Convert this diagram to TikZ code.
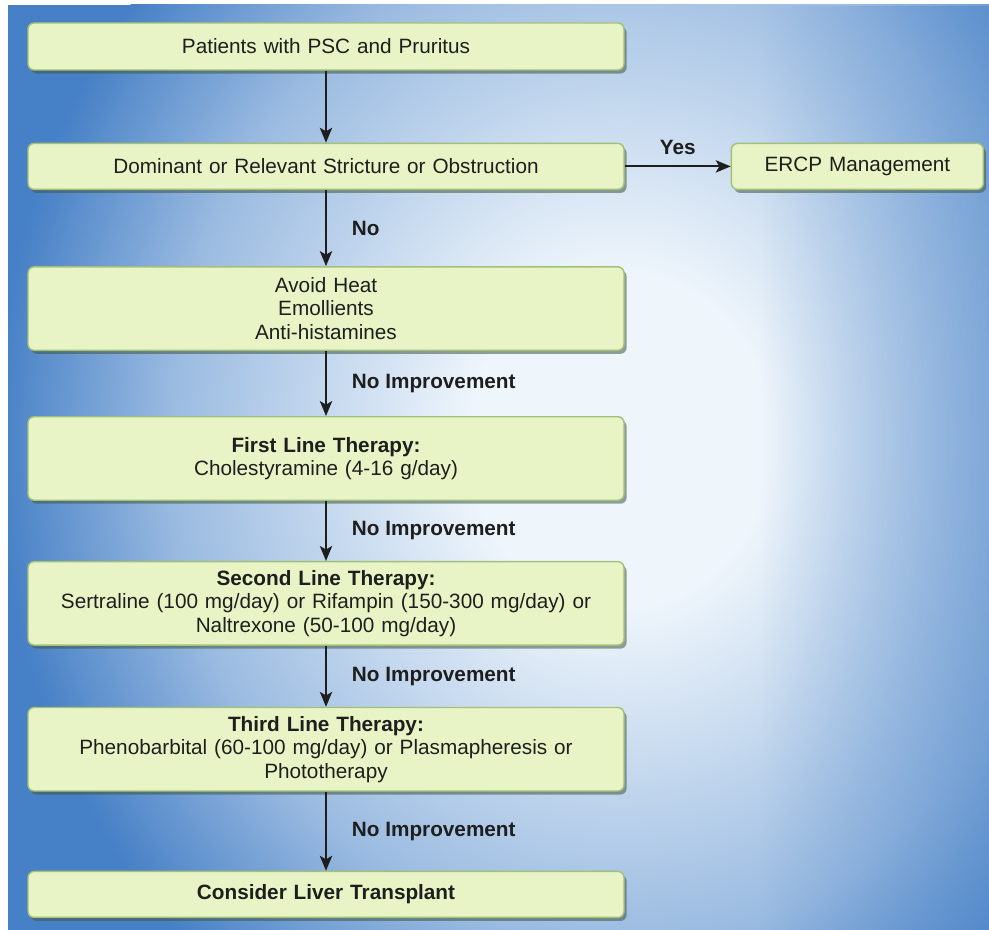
\documentclass[tikz,border=0pt]{standalone}
\usepackage{fontspec}
\setmainfont{Liberation Sans}
\usetikzlibrary{arrows.meta, positioning, shadows, fadings}

\definecolor{bgblue}{HTML}{4680C6}
\definecolor{bglight}{HTML}{EEF5FB}
\colorlet{bgmid}{bgblue!50!bglight}
\definecolor{boxfill}{HTML}{E8F4C5}
\definecolor{boxline}{HTML}{A3C078}
\definecolor{boxshadow}{HTML}{3F5745}
\definecolor{txt}{HTML}{1E1E1E}
\pgfdeclareradialshading{bgglow}{\pgfpoint{0bp}{0bp}}{color(0bp)=(bglight); color(6bp)=(bglight); color(18bp)=(bgmid); color(25bp)=(bgblue); color(50bp)=(bgblue)}
\tikzfading[name=rightdark, left color=transparent!100, right color=transparent!0]

\begin{document}
\begin{tikzpicture}[
    font=\fontsize{11.8}{13.4}\selectfont,
    process/.style={rectangle, draw=boxline, line width=0.8pt, fill=boxfill, text=txt, text width=11.52cm, inner xsep=0.2cm, align=center, rounded corners=3.5pt, minimum height=0.92cm, drop shadow={shadow xshift=1.5pt, shadow yshift=-2pt, fill=boxshadow, opacity=0.55}},
    tall/.style={minimum height=1.67cm},
    sidebox/.style={process, text width=4.64cm},
    arrow/.style={-{Stealth[length=8.5pt, width=7pt, inset=2pt]}, line width=1.1pt, draw=txt},
    lbl/.style={font=\fontsize{11.8}{13.4}\selectfont\bfseries, text=txt, inner sep=0pt}
]
\useasboundingbox (0,0) rectangle (19.78,-18.6);
\fill[bgblue] (0.16,-0.1) rectangle (19.78,-18.6);
\begin{scope}
\clip (0.16,-0.1) rectangle (19.78,-18.6);
\shade[shading=bgglow] (12.4,-8.8) ellipse (12.5cm and 14cm);
\fill[bgblue, fill opacity=0.45, path fading=rightdark] (15.2,-0.1) rectangle (19.78,-18.6);
\end{scope}

\node[process, minimum height=0.94cm] (patients) at (6.52,-0.93) {Patients with PSC and Pruritus};
\node[process, below=1.44cm of patients] (stricture) {Dominant or Relevant Stricture or Obstruction};
\node[sidebox, right=2.12cm of stricture] (ercp) {ERCP Management};
\node[process, tall, below=1.52cm of stricture] (conserv) {Avoid Heat\\Emollients\\Anti-histamines};
\node[process, tall, below=1.3cm of conserv] (firstline) {\textbf{First Line Therapy:}\\Cholestyramine (4-16 g/day)};
\node[process, tall, below=1.2cm of firstline] (secondline) {\textbf{Second Line Therapy:}\\Sertraline (100 mg/day) or Rifampin (150-300 mg/day) or\\Naltrexone (50-100 mg/day)};
\node[process, tall, below=1.22cm of secondline] (thirdline) {\textbf{Third Line Therapy:}\\Phenobarbital (60-100 mg/day) or Plasmapheresis or\\Phototherapy};
\node[process, below=1.58cm of thirdline] (transplant) {\textbf{Consider Liver Transplant}};

\draw[arrow] (patients) -- (stricture);
\draw[arrow] (stricture) -- node[lbl, above=0.22cm] {Yes} (ercp);
\draw[arrow] (stricture) -- node[lbl, right=0.5cm] {No} (conserv);
\draw[arrow] (conserv) -- node[lbl, right=0.5cm] {No Improvement} (firstline);
\draw[arrow] (firstline) -- node[lbl, right=0.5cm] {No Improvement} (secondline);
\draw[arrow] (secondline) -- node[lbl, right=0.5cm] {No Improvement} (thirdline);
\draw[arrow] (thirdline) -- node[lbl, right=0.5cm] {No Improvement} (transplant);

\end{tikzpicture}
\end{document}
